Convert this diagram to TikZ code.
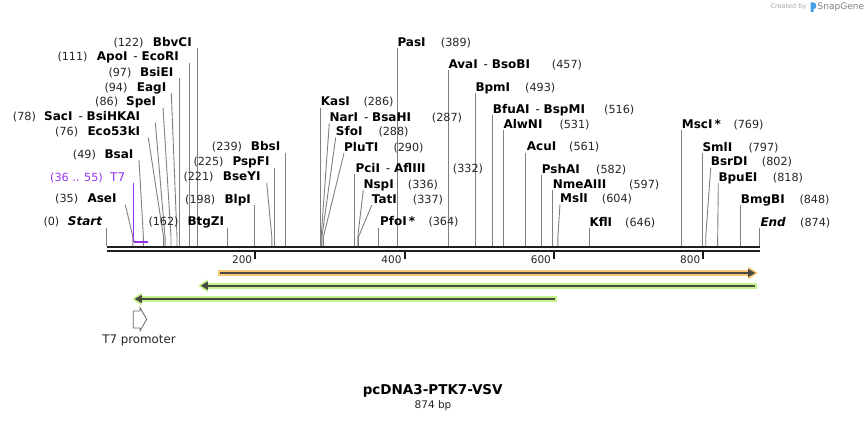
\documentclass[tikz,border=0pt]{standalone}
\usepackage{fontspec}
\setmainfont{DejaVu Sans}
\definecolor{orangeF}{RGB}{250,198,115}
\definecolor{greenF}{RGB}{196,242,140}
\definecolor{darkF}{RGB}{72,74,66}
\definecolor{cutgray}{RGB}{128,128,128}
\definecolor{tsvpurple}{RGB}{150,50,240}
\definecolor{sgblue}{RGB}{70,160,230}
\newcommand\sepdash{\mdseries\hspace{6pt}- \bfseries}
\newcommand\enzV[7]{%
  \node[nm] (#1n) at (#4,#3+4.3) {#5};
  \node[num] (#1c) at (#6,#3+4.3) {#7};
  \coordinate (#1t) at ({106.8+0.7468*#2},#3+6);
  \coordinate (#1s) at ({106.8+0.7468*#2},246);
  \draw[cut] (#1t) -- (#1s);}
\newcommand\enzS[8]{%
  \node[nm] (#1n) at (#4,#3+4.3) {#5};
  \node[num] (#1c) at (#6,#3+4.3) {#7};
  \coordinate (#1t) at (#8,#3+6);
  \coordinate (#1b) at ({106.8+0.7468*#2},237);
  \coordinate (#1s) at ({106.8+0.7468*#2},246);
  \draw[cut] (#1t) -- (#1b) -- (#1s);}
\begin{document}
\begin{tikzpicture}[x=1pt,y=-1pt,
  nm/.style={anchor=base west, inner sep=0pt, font=\fontsize{12}{13}\selectfont\bfseries},
  num/.style={anchor=base west, inner sep=0pt, font=\fontsize{11.2}{13}\selectfont, text=black!85},
  cut/.style={draw=cutgray, line width=0.9pt},
  tick/.style={draw=black!90, line width=2pt},
  ticklab/.style={anchor=east, inner sep=0pt, font=\fontsize{10.5}{12}\selectfont, text=black!85}]
\useasboundingbox (0,0) rectangle (868,422);
\fill[white] (0,0) rectangle (868,422);

% enzyme sites, left group
\enzV{bbvci}{122}{42.3}{152.7}{BbvCI}{113.3}{(122)}
\enzV{ecori}{111}{56.7}{96.7}{ApoI\sepdash EcoRI}{57.3}{(111)}
\enzV{bsiei}{97}{72.3}{140}{BsiEI}{108.3}{(97)}
\enzS{eagi}{94}{87.3}{136.7}{EagI}{104.3}{(94)}{171.3}
\enzS{spei}{86}{101.7}{126}{SpeI}{95}{(86)}{163}
\enzS{saci}{78}{116.7}{44}{SacI\sepdash BsiHKAI}{12.7}{(78)}{155.3}
\enzS{eco}{76}{131.7}{87.3}{Eco53kI}{55}{(76)}{148.3}
\enzS{bsai}{49}{154}{104.3}{BsaI}{72.7}{(49)}{139}
\enzS{asei}{35}{198.7}{87.3}{AseI}{55}{(35)}{125.3}
\enzV{start}{0}{221.7}{67.7}{\itshape Start}{43.3}{(0)}
\enzV{btgzi}{162}{221.7}{187.3}{BtgZI}{148.3}{(162)}
\enzV{blpi}{198}{199.3}{224.3}{BlpI}{185}{(198)}
\enzS{bseyi}{221}{176.7}{222.7}{BseYI}{183.3}{(221)}{266.7}
\enzV{pspfi}{225}{161.7}{232.3}{PspFI}{193.3}{(225)}
\enzV{bbsi}{239}{146.7}{250.7}{BbsI}{211.7}{(239)}

% T7 primer
\node[num, text=tsvpurple] (t7c) at (50,181.3) {(36 .. 55)};
\node[num, text=tsvpurple, font=\fontsize{12}{13}\selectfont] (t7n) at (110,181.3) {T7};
\coordinate (t7t) at (133.5,182.7);
\coordinate (t7a) at (133.5,242.3);
\coordinate (t7b) at (147.7,242.3);
\draw[tsvpurple, line width=1.3pt] (t7t) -- (t7a);
\draw[tsvpurple, line width=2pt] (t7a) -- (t7b);

% enzyme sites, middle and right groups
\enzV{pasi}{389}{42.3}{397.3}{PasI}{440.7}{(389)}
\enzV{avai}{457}{64.3}{448.3}{AvaI\sepdash BsoBI}{551.7}{(457)}
\enzV{bpmi}{493}{87.3}{475.3}{BpmI}{525}{(493)}
\enzV{bfuai}{516}{109}{492.7}{BfuAI\sepdash BspMI}{604}{(516)}
\enzV{alwni}{531}{124}{503.3}{AlwNI}{559.3}{(531)}
\enzV{acui}{561}{146.7}{526.7}{AcuI}{569}{(561)}
\enzV{pshai}{582}{169.3}{541.7}{PshAI}{596}{(582)}
\enzV{nmeaiii}{597}{184}{552.7}{NmeAIII}{629}{(597)}
\enzS{msli}{604}{198.3}{560}{MslI}{601.7}{(604)}{560}
\enzV{kasi}{286}{101.7}{320.7}{KasI}{363.3}{(286)}
\enzS{nari}{287}{117.3}{329.3}{NarI\sepdash BsaHI}{431.7}{(287)}{329.3}
\enzS{sfoi}{288}{131.7}{335.7}{SfoI}{378.3}{(288)}{335.7}
\enzS{pluti}{290}{147.3}{344}{PluTI}{393.3}{(290)}{344}
\enzV{pcii}{332}{168.3}{355.3}{PciI\sepdash AflIII}{452.7}{(332)}
\enzS{nspi}{336}{184}{363.3}{NspI}{407.7}{(336)}{363.3}
\enzS{tati}{337}{199.3}{371.7}{TatI}{412.7}{(337)}{371.7}
\enzV{pfoi}{364}{221.7}{380}{PfoI\,*}{428.3}{(364)}
\enzV{msci}{769}{124}{681.7}{MscI\,*}{733.3}{(769)}
\enzV{smli}{797}{147.3}{702.3}{SmlI}{748.3}{(797)}
\enzS{bsrdi}{802}{161.7}{710.7}{BsrDI}{761.7}{(802)}{710.7}
\enzS{bpuei}{818}{177.3}{718.3}{BpuEI}{772.7}{(818)}{718.3}
\enzV{bmgbi}{848}{199}{740.7}{BmgBI}{799.3}{(848)}
\enzV{endn}{874}{222.3}{760.3}{\itshape End}{800}{(874)}
\enzV{kfli}{646}{222.3}{589.3}{KflI}{625}{(646)}

% backbone
\coordinate (bbL1) at (106.7,247);
\coordinate (bbR1) at (760,247);
\coordinate (bbL2) at (106.7,251.2);
\coordinate (bbR2) at (760,251.2);
\draw[black!88, line width=2.6pt] (bbL1) -- (bbR1);
\draw[black!88, line width=2pt] (bbL2) -- (bbR2);

% ticks
\foreach \v/\lab in {200/200,400/400,600/600,800/800}{
  \coordinate (tk\v a) at ({106+0.7468*\v},251);
  \coordinate (tk\v b) at ({106+0.7468*\v},259);
  \draw[tick] (tk\v a) -- (tk\v b);
  \node[ticklab] (tl\v) at ({103+0.7468*\v},259.5) {\lab};
}

% features
\coordinate (oA) at (218,273);
\coordinate (oB) at (749,273);
\draw[orangeF, line width=6pt] (oA) -- (oB);
\fill[orangeF] (748,266.5) -- (757.8,273) -- (748,279.5) -- cycle;
\draw[darkF, line width=2.3pt] (220,273) -- (749,273);
\fill[darkF] (748,268.8) -- (755.3,273) -- (748,277.2) -- cycle;

\coordinate (g1A) at (206,285.7);
\coordinate (g1B) at (756.8,285.7);
\draw[greenF, line width=6pt] (g1A) -- (g1B);
\fill[greenF] (207.5,279.2) -- (198.3,285.7) -- (207.5,292.2) -- cycle;
\draw[darkF, line width=2.3pt] (207,285.7) -- (754.8,285.7);
\fill[darkF] (207.8,281.5) -- (200.8,285.7) -- (207.8,289.9) -- cycle;

\coordinate (g2A) at (140,299);
\coordinate (g2B) at (557,299);
\draw[greenF, line width=6pt] (g2A) -- (g2B);
\fill[greenF] (141.5,292.5) -- (132.3,299) -- (141.5,305.5) -- cycle;
\draw[darkF, line width=2.3pt] (141,299) -- (555,299);
\fill[darkF] (141.8,294.8) -- (134.8,299) -- (141.8,303.2) -- cycle;

% T7 promoter
\draw[black!60, fill=white, line width=0.8pt, line join=miter]
  (133.3,311) -- (140,311) -- (140,307.7) -- (146.7,319.3) -- (140,330.8) -- (140,328) -- (133.3,328) -- cycle;
\node[font=\fontsize{11.8}{13}\selectfont, text=black!85, inner sep=0pt] (t7p) at (139,340) {T7 promoter};

% title
\node[font=\fontsize{13.5}{15}\selectfont\bfseries, inner sep=0pt] (title) at (432.7,390.5) {pcDNA3-PTK7-VSV};
\node[font=\fontsize{10.5}{12}\selectfont, text=black!85, inner sep=0pt] (bp) at (433,406) {874 bp};

% credit
\node[anchor=east, inner sep=0pt, text=black!35, font=\fontsize{6.5}{7}\selectfont] (cb) at (806.5,7) {Created by};
\fill[sgblue] (810.5,2.5) rectangle (813.5,12) (813.5,2.5) -- (816,4) -- (816,8) -- (813.5,9) -- cycle;
\node[anchor=west, inner sep=0pt, text=black!50, font=\fontsize{9}{10}\selectfont] (sg) at (817.5,7) {SnapGene};
\end{tikzpicture}
\end{document}
